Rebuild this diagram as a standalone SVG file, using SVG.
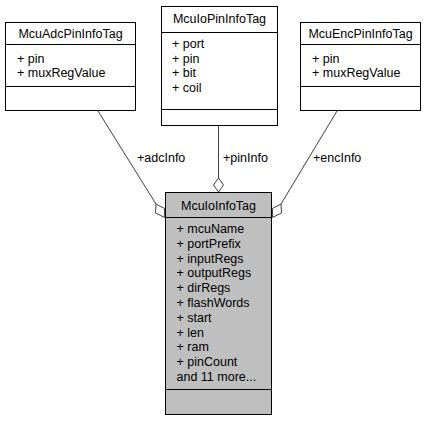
<svg xmlns="http://www.w3.org/2000/svg" width="437" height="421" viewBox="0 0 437 421">
<style>
text{font-family:"Liberation Sans",Arial,sans-serif;font-size:12.5px;fill:#000}
.t{text-anchor:middle}
.box{fill:#fff;stroke:#000;stroke-width:1}
.main{fill:#bfbfbf;stroke:#000;stroke-width:1}
.sep{stroke:#000;stroke-width:1}
.edge{stroke:#404040;stroke-width:1;fill:none}
.dia{stroke:#404040;stroke-width:1;fill:#fff}
</style>
<rect width="437" height="421" fill="#fff"/>
<g id="connectors">
<line class="edge" x1="98" y1="111" x2="156" y2="204"/>
<polygon class="dia" points="156,204 155.5,213 164.6,217.5 164.5,208.5"/>
<text x="137" y="162">+adcInfo</text>
<line class="edge" x1="218.5" y1="126" x2="218.5" y2="178"/>
<polygon class="dia" points="218.5,178 213.5,185 218.5,192 223.5,185"/>
<text x="223" y="162">+pinInfo</text>
<line class="edge" x1="337" y1="111" x2="281" y2="204"/>
<polygon class="dia" points="281,204 281.5,213 272.4,217.5 272.5,208.5"/>
<text x="313" y="162">+encInfo</text>
</g>
<g id="McuAdcPinInfoTag">
<rect class="box" x="5.5" y="22.5" width="130" height="88"/>
<line class="sep" x1="5.5" y1="44.5" x2="135.5" y2="44.5"/>
<line class="sep" x1="5.5" y1="86.5" x2="135.5" y2="86.5"/>
<text class="t" x="70.5" y="38">McuAdcPinInfoTag</text>
<text x="17" y="63">+ pin</text>
<text x="17" y="77">+ muxRegValue</text>
</g>
<g id="McuIoPinInfoTag">
<rect class="box" x="161.5" y="6.5" width="116" height="119"/>
<line class="sep" x1="161.5" y1="32.5" x2="277.5" y2="32.5"/>
<line class="sep" x1="161.5" y1="109.5" x2="277.5" y2="109.5"/>
<text class="t" x="219.5" y="22.5">McuIoPinInfoTag</text>
<text x="172" y="48">+ port</text>
<text x="172" y="62.5">+ pin</text>
<text x="172" y="77">+ bit</text>
<text x="172" y="91.5">+ coil</text>
</g>
<g id="McuEncPinInfoTag">
<rect class="box" x="300.5" y="22.5" width="120" height="88"/>
<line class="sep" x1="300.5" y1="44.5" x2="420.5" y2="44.5"/>
<line class="sep" x1="300.5" y1="86.5" x2="420.5" y2="86.5"/>
<text class="t" x="360.5" y="38">McuEncPinInfoTag</text>
<text x="312" y="63">+ pin</text>
<text x="312" y="77">+ muxRegValue</text>
</g>
<g id="McuIoInfoTag">
<rect class="main" x="165.5" y="192.5" width="106" height="222"/>
<line class="sep" x1="165.5" y1="217.5" x2="271.5" y2="217.5"/>
<line class="sep" x1="165.5" y1="389.5" x2="271.5" y2="389.5"/>
<text class="t" x="218.5" y="209.5">McuIoInfoTag</text>
<text x="176.5" y="233">+ mcuName</text>
<text x="176.5" y="247.8">+ portPrefix</text>
<text x="176.5" y="262.6">+ inputRegs</text>
<text x="176.5" y="277.4">+ outputRegs</text>
<text x="176.5" y="292.2">+ dirRegs</text>
<text x="176.5" y="307">+ flashWords</text>
<text x="176.5" y="321.8">+ start</text>
<text x="176.5" y="336.6">+ len</text>
<text x="176.5" y="351.4">+ ram</text>
<text x="176.5" y="366.2">+ pinCount</text>
<text x="176.5" y="381">and 11 more...</text>
</g>
</svg>
